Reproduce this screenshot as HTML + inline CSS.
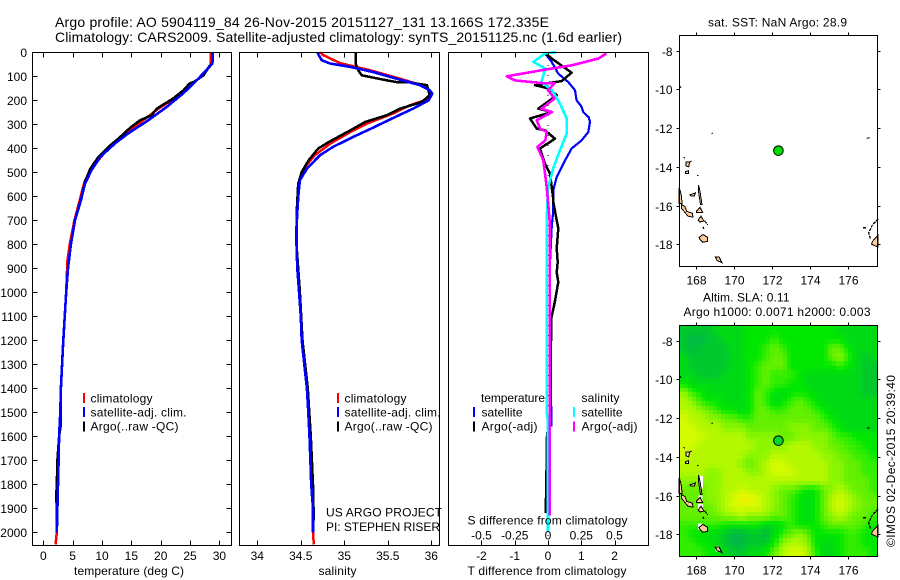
<!DOCTYPE html>
<html>
<head>
<meta charset="utf-8">
<title>Argo profile 5904119_84</title>
<style>
html,body{margin:0;padding:0;background:#fff;}
svg{display:block;font-family:"Liberation Sans",sans-serif;}
</style>
</head>
<body>
<svg id="chart" xmlns="http://www.w3.org/2000/svg" width="900" height="580" viewBox="0 0 900 580"></svg>
<script>
// ---- chart data ----
const pressureTicks = [0,100,200,300,400,500,600,700,800,900,1000,1100,1200,1300,1400,1500,1600,1700,1800,1900,2000];
const tempTicks = [0,5,10,15,20,25,30];
const salTicks = [34,34.5,35,35.5,36];
const salTickLabels = ['34','34.5','35','35.5','36'];
const diffTTicks = [-2,-1,0,1,2];
const diffTTickLabels = ['-2','-1','0','1','2'];
const diffSTicks = [-0.5,-0.25,0,0.25,0.5];
const diffSTickLabels = ['-0.5','-0.25','0','0.25','0.5'];
const lonTicks = [168,170,172,174,176];
const latTicks = [-8,-10,-12,-14,-16,-18];

const tempClimP = [0,54,96,144,186,235,283,353,408,485,540,617,700,800,870,1000,1200,1400,1500,1600,1700,1800,1900,2000,2050];
const tempClimV = [28.5,28.5,27.0,25.0,22.7,19.6,17.0,13.6,10.8,8.2,7.0,6.2,5.3,4.5,4.1,3.9,3.4,3.0,2.9,2.7,2.6,2.5,2.4,2.3,2.1];
const tempArgoP = [45,54,96,124,130,158,193,235,262,283,314,353,388,436,485,540,603,700,800,900,1000,1200,1400,1550,1600,1700,1800,1850,1900,2000];
const tempArgoV = [28.8,28.4,27.3,25.6,24.9,23.9,22.1,19.3,18.5,16.5,14.8,13.1,11.4,9.4,8.0,7.1,6.5,5.4,4.7,4.2,3.9,3.4,3.0,3.0,2.7,2.4,2.3,2.2,2.3,2.3];
const tempSatP = [0,47,110,172,228,283,339,380,436,492,547,617,700,800,900,1000,1200,1400,1500,1600,1700,1800,1900,2000];
const tempSatV = [28.9,28.8,26.4,23.8,21.0,17.9,14.4,12.2,9.7,8.2,7.1,6.4,5.4,4.7,4.2,3.9,3.4,3.0,2.9,2.7,2.6,2.5,2.4,2.3];

const salClimP = [0,12,45,78,114,144,172,197,221,255,297,332,380,429,478,533,603,728,800,900,1000,1100,1200,1300,1400,1500,1600,1700,1800,1900,2000,2050];
const salClimV = [34.72,34.76,34.95,35.33,35.68,35.95,36.0,35.95,35.75,35.56,35.26,35.07,34.84,34.66,34.55,34.48,34.47,34.45,34.45,34.46,34.48,34.5,34.51,34.54,34.57,34.586,34.6,34.61,34.62,34.64,34.64,34.65];
const salArgoP = [0,47,75,96,114,124,126,137,179,207,235,262,290,325,374,401,450,499,547,650,800,1000,1200,1400,1600,1800,1950];
const salArgoV = [35.13,35.13,35.16,35.2,35.45,35.6,35.76,35.95,35.98,35.89,35.64,35.49,35.24,35.07,34.82,34.7,34.59,34.51,34.47,34.455,34.45,34.49,34.52,34.58,34.615,34.64,34.65];
const salSatP = [0,8,33,47,61,82,110,137,158,172,200,235,267,314,353,394,429,485,533,603,728,800,900,1000,1100,1200,1300,1400,1500,1600,1700,1800,1900,2000];
const salSatV = [34.69,34.7,34.74,34.84,35.07,35.33,35.6,35.87,35.98,36.01,35.97,35.79,35.6,35.33,35.1,34.87,34.72,34.57,34.49,34.47,34.45,34.45,34.46,34.48,34.5,34.51,34.54,34.57,34.586,34.6,34.61,34.62,34.64,34.64];

const dTSatP = [4,40,89,124,158,200,225,249,270,290,332,367,401,464,519,575,658,728,900,1200,1500,1560];
const dTSatV = [-0.09,0.11,0.31,0.61,0.81,0.86,1.0,1.06,1.22,1.26,1.21,1.01,0.71,0.46,0.26,0.16,0.16,0.11,0.05,0.05,0.1,0.1];
const dTArgoP = [8,26,85,120,137,151,179,235,249,276,318,325,360,401,464,505,603,617,700,733,817,875,917,958,1042,1108,1208,1300,1500,1600,1800,1920];
const dTArgoV = [-0.05,0.11,0.71,0.41,-0.39,0.03,0.26,-0.29,0.11,-0.54,-0.34,-0.09,0.21,-0.24,-0.09,0.06,0.15,0.15,0.26,0.31,0.26,0.29,0.26,0.31,0.2,0.1,0.09,0.09,0.06,-0.03,-0.05,-0.07];
const dSSatP = [0,4,40,68,124,158,214,275,339,408,482,565,700,1500,1540,2000];
const dSSatV = [0.06,-0.02,-0.11,-0.02,-0.05,0.03,0.09,0.14,0.14,0.09,0.04,0.0,-0.01,-0.01,0.0,0.0];
const dSArgoP = [4,26,54,72,100,117,128,130,158,193,235,249,283,318,332,367,394,450,561,700,1200,1930];
const dSArgoV = [0.44,0.38,0.18,-0.02,-0.31,-0.25,-0.05,0.05,0.0,0.05,-0.05,0.03,-0.085,-0.06,-0.01,-0.02,-0.08,-0.035,-0.01,0.012,0.012,0.012];

// SLA colour level per heatmap cell, north to south, west to east
const slaGrid = [
[1,1,1,1,2,2,2,2,3,3,3,3,3,3,3,3,3,3,3,2,2,2,2,2],
[1,0,0,1,1,2,2,2,3,3,3,4,3,3,3,3,3,3,3,3,2,2,2,2],
[1,0,1,1,1,1,2,2,3,3,4,5,4,3,3,3,3,3,5,5,3,2,2,2],
[2,1,1,1,1,1,2,2,3,3,4,5,5,3,3,3,3,3,5,6,4,2,1,2],
[2,1,1,1,1,1,2,2,3,4,5,5,5,3,3,3,3,3,3,4,3,2,1,1],
[2,2,1,1,1,2,2,2,3,4,5,4,4,4,3,2,2,2,2,2,2,2,1,1],
[3,2,2,2,2,2,2,2,3,4,5,4,4,3,3,2,2,2,2,2,2,2,1,1],
[6,4,3,2,2,2,2,2,3,5,4,3,2,3,3,3,2,2,2,2,2,2,1,1],
[7,6,4,3,3,2,2,2,3,5,4,2,3,4,5,4,3,2,2,2,2,2,2,2],
[7,7,6,5,4,3,3,2,3,5,5,4,4,5,5,5,4,3,2,2,2,2,2,2],
[8,7,7,6,6,5,5,4,4,5,5,5,5,5,5,5,5,4,3,2,2,2,2,2],
[8,8,7,7,7,6,6,6,5,5,5,5,5,6,6,6,5,5,4,3,2,2,2,2],
[8,8,8,7,7,7,7,7,6,6,6,6,5,5,6,6,6,6,5,4,4,3,3,3],
[8,8,7,7,7,7,7,7,7,6,6,6,6,7,7,7,6,6,5,5,4,4,3,3],
[8,7,7,7,7,7,7,7,6,6,6,7,7,7,7,7,7,6,6,5,5,4,4,3],
[7,7,7,7,7,7,7,6,5,6,7,8,8,7,7,7,7,7,6,6,5,5,4,4],
[7,7,7,6,6,7,7,7,6,6,7,8,8,8,7,7,7,7,6,6,5,5,4,4],
[6,6,6,6,6,7,7,7,7,7,7,7,7,7,7,7,7,7,6,6,5,5,5,4],
[5,5,5,6,6,7,7,8,7,7,7,6,5,5,4,3,3,5,6,7,6,5,5,4],
[5,5,5,6,6,7,8,9,9,8,7,6,5,4,3,2,3,5,7,8,7,6,5,5],
[5,5,5,5,6,7,8,8,8,8,7,6,5,4,3,2,3,5,7,8,7,6,5,5],
[5,5,5,5,5,6,6,7,6,6,6,5,5,4,3,2,3,5,6,7,6,5,5,4],
[4,4,4,4,4,3,3,3,3,3,2,2,3,4,3,3,3,4,5,5,5,5,4,3],
[4,3,3,2,2,1,0,0,1,1,0,2,4,5,6,5,3,3,3,3,4,4,3,3],
[4,4,3,3,2,1,0,0,1,1,1,3,6,7,7,6,3,2,2,3,4,4,3,3],
[4,4,4,3,3,2,1,1,2,2,3,5,7,8,8,7,4,2,2,3,4,4,4,3]
];

// coastline outlines in lon/lat
const islandShapes = [
[[167.1,-15.1],[167.2,-15.4],[167.25,-15.9],[167.1,-15.9]],
[[167.22,-15.95],[167.4,-16.05],[167.5,-16.3],[167.8,-16.4],[167.82,-16.6],[167.55,-16.55],[167.4,-16.35],[167.22,-16.15]],
[[167.65,-15.45],[167.95,-15.35],[167.9,-15.5],[167.7,-15.5]],
[[167.42,-14.25],[167.6,-14.2],[167.6,-14.35],[167.42,-14.35]],
[[167.45,-13.75],[167.65,-13.75],[167.6,-14.0],[167.45,-13.95]],
[[168.12,-14.95],[168.2,-15.3],[168.3,-15.95],[168.22,-15.95],[168.12,-15.3]],
[[168.0,-16.3],[168.2,-16.1],[168.33,-16.35],[168.0,-16.35]],
[[168.1,-16.75],[168.25,-16.55],[168.4,-16.8],[168.2,-16.85]],
[[168.15,-17.65],[168.35,-17.5],[168.6,-17.65],[168.6,-17.85],[168.35,-17.9],[168.2,-17.75]],
[[169.0,-18.65],[169.2,-18.65],[169.35,-18.95],[169.1,-18.85]],
[[177.6,-17.52],[177.3,-17.85],[177.25,-18.0],[177.6,-18.15]]
];
const coastLines = [
[[177.6,-16.7],[177.3,-17.0],[177.1,-17.4],[177.2,-17.75]],
[[168.45,-16.8],[168.6,-17.0]],
[[168.35,-17.1],[168.4,-17.2]],
[[168.8,-12.3],[168.87,-12.25]],
[[177.0,-12.5],[177.15,-12.52]],
[[176.8,-17.15],[176.95,-17.15]],
[[167.12,-9.85],[167.2,-9.9]],
[[168.03,-14.45],[168.12,-14.45]],
[[167.33,-13.52],[167.4,-13.55]],
[[167.65,-13.75],[167.75,-13.7]]
];
// regions without altimetry near the islands: [west, north, east, south]
const noDataBoxes = [
[168.15,-15.0,168.35,-15.65],
[168.12,-16.0,168.33,-16.3],
[168.1,-16.45,168.35,-16.8],
[168.1,-17.45,168.3,-17.75],
[169.0,-18.6,169.2,-18.9],
[167.45,-13.7,167.6,-13.95]
];
const profileLon = 172.335;
const profileLat = -13.166;

// ---- axis functions ----
const yP = p => 52.3 + p * 0.24;
const xTemp = t => 43.3 + t * 5.87;
const xSal = s => 257.3 + (s - 34) * 87;
const xDT = d => 548 + d * 33.3;
const xDS = d => 548 + d * 133;
const lonX = lon => 696.3 + (lon - 168) * 18.95;
const latY = (lat, off) => 50.7 + off + (-8 - lat) * 19.35;

const svg = document.getElementById('chart');
const NS = 'http://www.w3.org/2000/svg';
function make(tag, attrs, parent) {
  const el = document.createElementNS(NS, tag);
  for (const k in attrs) el.setAttribute(k, attrs[k]);
  (parent || svg).appendChild(el);
  return el;
}
function label(text, x, y, name, opts) {
  const o = opts || {};
  const el = make('text', {x: x, y: y + 4.3, 'font-size': o.size || 12, 'text-anchor': o.anchor || 'start', fill: '#000'});
  if (o.len) { el.setAttribute('textLength', o.len); el.setAttribute('lengthAdjust', 'spacing'); }
  if (o.rotate) el.setAttribute('transform', o.rotate);
  el.textContent = text;
  
  
  return el;
}
function seg(x1, y1, x2, y2, name) {
  const el = make('line', {x1: x1, y1: y1, x2: x2, y2: y2, stroke: '#000', 'stroke-width': 1, 'shape-rendering': 'crispEdges'});
  
  
  return el;
}
function frame(l, t, r, b, name) {
  const el = make('rect', {x: l, y: t, width: r - l, height: b - t, fill: 'none', stroke: '#000', 'stroke-width': 1, 'shape-rendering': 'crispEdges'});
  
  
  return el;
}
function series(ps, vs, xf, color, name, width) {
  const pts = ps.map((p, i) => xf(vs[i]).toFixed(1) + ',' + yP(p).toFixed(1)).join(' ');
  const el = make('polyline', {points: pts, fill: 'none', stroke: color, 'stroke-width': width || 2, 'shape-rendering': 'crispEdges', 'stroke-linejoin': 'round'});
  
  
  return el;
}
function legendBar(x, yc, color, name) {
  const el = make('rect', {x: x, y: yc - 5, width: 2, height: 10, fill: color, 'shape-rendering': 'crispEdges'});
  
  
  return el;
}
function hTicks(ticks, xf, top, bottom, len, name) {
  ticks.forEach(v => {
    const x = Math.round(xf(v)) + 0.5;
    seg(x, top, x, top + len, name + '-top-tick');
    seg(x, bottom, x, bottom - len, name + '-bottom-tick');
  });
}

// ---- titles ----
label('Argo profile: AO 5904119_84 26-Nov-2015 20151127_131 13.166S 172.335E', 55, 22.5, 'profile-title', {size: 14, len: 494});
label('Climatology: CARS2009. Satellite-adjusted climatology: synTS_20151125.nc (1.6d earlier)', 55, 37.5, 'climatology-title', {size: 14, len: 567});

// ---- temperature panel ----
series(tempClimP, tempClimV, xTemp, '#ff0000', 'temperature-climatology-line', 2.5);
series(tempArgoP, tempArgoV, xTemp, '#000000', 'temperature-argo-line', 2.5);
series(tempSatP, tempSatV, xTemp, '#0000ff', 'temperature-satellite-line', 2.6);
frame(32.5, 52.5, 231.5, 545.5, 'temperature-panel-frame');
hTicks(tempTicks, xTemp, 52.5, 545.5, 5, 'temperature');
tempTicks.forEach(v => {
  label(String(v), xTemp(v), 555.5, 'temperature-tick-label', {anchor: 'middle'});
});
pressureTicks.forEach(p => {
  const y = Math.round(yP(p)) + 0.5;
  seg(32.5, y, 37.5, y, 'pressure-left-tick');
  seg(231.5, y, 226.5, y, 'pressure-right-tick');
  label(String(p), 27, y, 'pressure-tick-label', {anchor: 'end'});
});
label('temperature (deg C)', 74, 570.5, 'temperature-axis-title', {len: 110});
legendBar(83, 398, '#ff0000', 'legend-swatch-climatology');
legendBar(83, 412, '#0000ff', 'legend-swatch-satellite');
legendBar(83, 426.5, '#000000', 'legend-swatch-argo');
label('climatology', 90.5, 398, 'legend-label-climatology', {len: 62});
label('satellite-adj. clim.', 90.5, 412, 'legend-label-satellite', {len: 96});
label('Argo(..raw -QC)', 90.5, 426, 'legend-label-argo', {len: 88});

// ---- salinity panel ----
series(salClimP, salClimV, xSal, '#ff0000', 'salinity-climatology-line', 2.5);
series(salArgoP, salArgoV, xSal, '#000000', 'salinity-argo-line', 2.5);
series(salSatP, salSatV, xSal, '#0000ff', 'salinity-satellite-line', 2.6);
frame(239.5, 52.5, 439.5, 545.5, 'salinity-panel-frame');
hTicks(salTicks, xSal, 52.5, 545.5, 5, 'salinity');
salTicks.forEach((v, i) => {
  label(salTickLabels[i], xSal(v), 555.5, 'salinity-tick-label', {anchor: 'middle'});
});
label('salinity', 318.5, 570.5, 'salinity-axis-title', {len: 38});
legendBar(337, 398, '#ff0000', 'legend-swatch-climatology-salinity');
legendBar(337, 412, '#0000ff', 'legend-swatch-satellite-salinity');
legendBar(337, 426.5, '#000000', 'legend-swatch-argo-salinity');
label('climatology', 344.5, 398, 'legend-label-climatology-salinity', {len: 62});
label('satellite-adj. clim.', 344.5, 412, 'legend-label-satellite-salinity', {len: 96});
label('Argo(..raw -QC)', 344.5, 426, 'legend-label-argo-salinity', {len: 88});
label('US ARGO PROJECT', 326, 512, 'project-label', {len: 116});
label('PI: STEPHEN RISER', 326, 526.5, 'investigator-label', {len: 114});

// ---- difference panel ----
const zeroLine = make('line', {x1: xDT(0), y1: 55, x2: xDT(0), y2: 545, stroke: '#000', 'stroke-width': 1, 'stroke-dasharray': '1 9', 'shape-rendering': 'crispEdges'});


series(dTSatP, dTSatV, xDT, '#0000ff', 'temperature-difference-satellite-line', 2.2);
series(dTArgoP, dTArgoV, xDT, '#000000', 'temperature-difference-argo-line', 2.5);
series(dSSatP, dSSatV, xDS, '#00ffff', 'salinity-difference-satellite-line', 2.6);
series(dSArgoP, dSArgoV, xDS, '#ff00ff', 'salinity-difference-argo-line', 2.6);
frame(448.5, 52.5, 648.5, 545.5, 'difference-panel-frame');
hTicks(diffTTicks, xDT, 52.5, 545.5, 5, 'difference');
diffTTicks.forEach((v, i) => {
  label(diffTTickLabels[i], xDT(v), 555.5, 'temperature-difference-tick-label', {anchor: 'middle'});
});
diffSTicks.forEach((v, i) => {
  label(diffSTickLabels[i], xDS(v), 535, 'salinity-difference-tick-label', {anchor: 'middle'});
});
label('S difference from climatology', 467.5, 520, 'salinity-difference-title', {len: 160});
label('T difference from climatology', 467.5, 570.5, 'temperature-difference-title', {len: 159});
label('temperature', 481, 397.5, 'legend-heading-temperature', {len: 64});
label('satellite', 481.5, 412, 'legend-label-temperature-satellite', {len: 41});
label('Argo(-adj)', 481.5, 426, 'legend-label-temperature-argo', {len: 56});
label('salinity', 581.5, 397.5, 'legend-heading-salinity', {len: 38});
label('satellite', 581.5, 412, 'legend-label-salinity-satellite', {len: 41});
label('Argo(-adj)', 581.5, 426, 'legend-label-salinity-argo', {len: 56});
legendBar(473, 412, '#0000ff', 'legend-swatch-temperature-satellite');
legendBar(473, 426.5, '#000000', 'legend-swatch-temperature-argo');
legendBar(573, 412, '#00ffff', 'legend-swatch-salinity-satellite');
legendBar(573, 426.5, '#ff00ff', 'legend-swatch-salinity-argo');

// ---- maps ----
const levelColors = [[0,185,70],[0,200,45],[0,218,20],[0,232,0],[50,238,0],[100,240,0],[140,245,0],[180,248,0],[212,250,0],[240,242,0]];
function colorFor(v) {
  const t = Math.max(0, Math.min(levelColors.length - 1, v));
  const i = Math.min(levelColors.length - 2, Math.floor(t));
  const f = t - i;
  const c = levelColors[i].map((a, k) => Math.round(a + (levelColors[i + 1][k] - a) * f));
  return 'rgb(' + c.join(',') + ')';
}
function gridAt(r, c) {
  const rr = Math.max(0, Math.min(slaGrid.length - 1, r));
  const cc = Math.max(0, Math.min(slaGrid[0].length - 1, c));
  const r0 = Math.floor(rr), c0 = Math.floor(cc);
  const r1 = Math.min(slaGrid.length - 1, r0 + 1), c1 = Math.min(slaGrid[0].length - 1, c0 + 1);
  const fr = rr - r0, fc = cc - c0;
  const top = slaGrid[r0][c0] * (1 - fc) + slaGrid[r0][c1] * fc;
  const bot = slaGrid[r1][c0] * (1 - fc) + slaGrid[r1][c1] * fc;
  return top * (1 - fr) + bot * fr;
}
const heatLeft = 680, heatRight = 877, heatTop = 326, heatBottom = 556;
const nRows = slaGrid.length, nCols = slaGrid[0].length;
const cellSplit = 2;
for (let r = 0; r < nRows * cellSplit; r++) {
  for (let c = 0; c < nCols * cellSplit; c++) {
    const x0 = Math.round(heatLeft + c * (heatRight - heatLeft) / (nCols * cellSplit));
    const x1 = Math.round(heatLeft + (c + 1) * (heatRight - heatLeft) / (nCols * cellSplit));
    const y0 = Math.round(heatTop + r * (heatBottom - heatTop) / (nRows * cellSplit));
    const y1 = Math.round(heatTop + (r + 1) * (heatBottom - heatTop) / (nRows * cellSplit));
    const v = gridAt((r + 0.5) / cellSplit - 0.5, (c + 0.5) / cellSplit - 0.5);
    const cell = make('rect', {x: x0, y: y0, width: x1 - x0, height: y1 - y0, fill: colorFor(v), 'shape-rendering': 'crispEdges'});
    
    
  }
}
noDataBoxes.forEach(b => {
  const box = make('rect', {x: lonX(b[0]), y: latY(b[1], 290), width: lonX(b[2]) - lonX(b[0]), height: latY(b[3], 290) - latY(b[1], 290), fill: '#fff', 'shape-rendering': 'crispEdges'});
  
  
});
function drawMap(off, top, bottom, prefix, markerFill) {
  islandShapes.forEach(shape => {
    const pts = shape.map(q => lonX(q[0]).toFixed(1) + ',' + latY(q[1], off).toFixed(1)).join(' ');
    const isl = make('polygon', {points: pts, fill: '#ffcc99', stroke: '#000', 'stroke-width': 1, 'shape-rendering': 'crispEdges'});
    
    
  });
  coastLines.forEach(line => {
    const pts = line.map(q => lonX(q[0]).toFixed(1) + ',' + latY(q[1], off).toFixed(1)).join(' ');
    const cl = make('polyline', {points: pts, fill: 'none', stroke: '#000', 'stroke-width': 1.2, 'stroke-dasharray': '3 1', 'shape-rendering': 'crispEdges'});
    
    
  });
  const marker = make('circle', {cx: lonX(profileLon), cy: latY(profileLat, off), r: 4.8, fill: markerFill, stroke: '#000', 'stroke-width': 1});
  
  
  frame(679.5, top, 877.5, bottom, prefix + '-frame');
  lonTicks.forEach(v => {
    const x = Math.round(lonX(v)) + 0.5;
    seg(x, top, x, top - 3, prefix + '-top-tick');
    seg(x, bottom, x, bottom + 3, prefix + '-bottom-tick');
    label(String(v), x, bottom + 13.5, prefix + '-longitude-label', {anchor: 'middle'});
  });
  latTicks.forEach(v => {
    const y = Math.round(latY(v, off)) + 0.5;
    seg(679.5, y, 676.5, y, prefix + '-left-tick');
    seg(877.5, y, 880.5, y, prefix + '-right-tick');
    label(String(v), 672.5, y, prefix + '-latitude-label', {anchor: 'end'});
  });
}
drawMap(0, 35.5, 266.5, 'sst-map', '#00e000');
drawMap(290, 325.5, 556.5, 'sla-map', '#00d828');

label('sat. SST: NaN Argo: 28.9', 708, 22, 'sst-map-title', {len: 139});
label('Altim. SLA: 0.11', 703, 297, 'sla-map-title', {len: 86.5});
label('Argo h1000: 0.0071 h2000: 0.003', 683.5, 311.5, 'steric-height-title', {len: 187});
label('\u00A9IMOS 02-Dec-2015 20:39:40', 0, 0, 'timestamp-label', {len: 172, rotate: 'translate(890.5 547) rotate(-90)'});
</script>
</body>
</html>
